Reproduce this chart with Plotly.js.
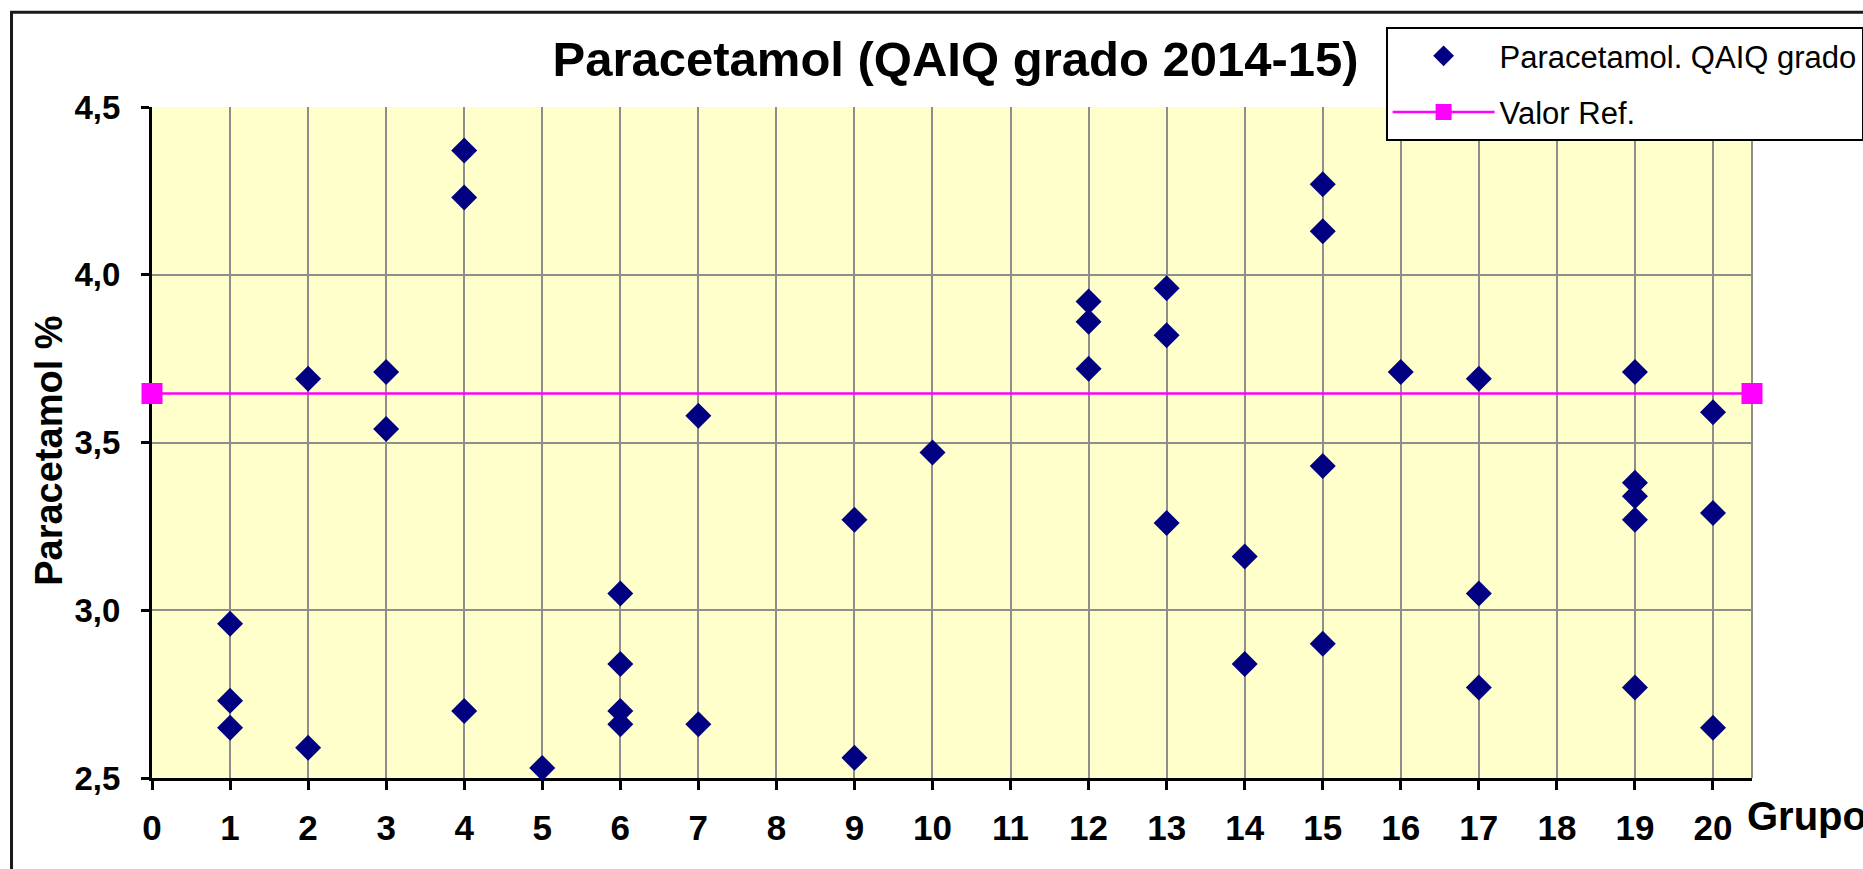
<!DOCTYPE html>
<html>
<head>
<meta charset="utf-8">
<script src="https://cdn.plot.ly/plotly-3.0.1.min.js"></script>
<style>
  html, body { margin: 0; padding: 0; background: #ffffff; }
  #chart { width: 1863px; height: 869px; }
</style>
</head>
<body>
<div id="chart"></div>
<script>
// ---- data ----
const grupo = [1, 1, 1, 2, 2, 3, 3, 4, 4, 4, 5, 6, 6, 6, 6, 7, 7, 9, 9, 10,
               12, 12, 12, 13, 13, 13, 14, 14, 15, 15, 15, 15, 16, 17, 17, 17,
               19, 19, 19, 19, 19, 20, 20, 20];
const paracetamol = [2.96, 2.73, 2.65, 3.69, 2.59, 3.71, 3.54, 4.37, 4.23, 2.70,
                     2.53, 3.05, 2.84, 2.70, 2.66, 3.58, 2.66, 3.27, 2.56, 3.47,
                     3.92, 3.86, 3.72, 3.96, 3.82, 3.26, 3.16, 2.84, 4.27, 4.13,
                     3.43, 2.90, 3.71, 3.69, 3.05, 2.77, 3.71, 3.38, 3.34, 3.27,
                     2.77, 3.59, 3.29, 2.65];
const refX = [0, 20.5];
const refY = [3.646, 3.646];

const seriesNames = ['Paracetamol. QAIQ grado', 'Valor Ref.'];
const xTickVals = [0, 1, 2, 3, 4, 5, 6, 7, 8, 9, 10, 11, 12, 13, 14, 15, 16, 17, 18, 19, 20];
const xTickText = ['0', '1', '2', '3', '4', '5', '6', '7', '8', '9', '10', '11', '12', '13', '14', '15', '16', '17', '18', '19', '20'];
const yTickVals = [2.5, 3.0, 3.5, 4.0, 4.5];
const yTickText = ['2,5', '3,0', '3,5', '4,0', '4,5'];

const titleText = 'Paracetamol (QAIQ grado 2014-15)';
const yTitleText = 'Paracetamol %';
const xTitleText = 'Grupo';

const FONT = 'Liberation Sans, Arial, Helvetica, sans-serif';

const traces = [
  {
    type: 'scatter',
    mode: 'markers',
    name: seriesNames[0],
    x: grupo,
    y: paracetamol,
    legendgroup: 'a',
    cliponaxis: false,
    marker: { symbol: 'diamond', size: 20, color: '#000080', line: { width: 0 } }
  },
  {
    type: 'scatter',
    mode: 'lines+markers',
    name: seriesNames[1],
    x: refX,
    y: refY,
    legendgroup: 'b',
    cliponaxis: false,
    line: { color: '#FF00FF', width: 2.5 },
    marker: { symbol: 'square', size: 21, color: '#FF00FF', line: { width: 0 } }
  }
];

const layout = {
  width: 1863,
  height: 869,
  margin: { l: 152, r: 111, t: 107, b: 91, pad: 0, autoexpand: false },
  paper_bgcolor: '#ffffff',
  plot_bgcolor: '#FFFFCC',
  separators: ',.',
  showlegend: true,
  font: { family: FONT, color: '#000000' },
  title: {
    text: titleText,
    font: { family: FONT, size: 49, weight: 'bold', color: '#000000' },
    xref: 'container', x: 0.5129, xanchor: 'center',
    yref: 'container', y: 0.932, yanchor: 'middle'
  },
  xaxis: {
    range: [0, 20.5],
    tickmode: 'array',
    tickvals: xTickVals,
    ticktext: xTickText,
    showgrid: true,
    gridcolor: '#8e8e8e',
    gridwidth: 2,
    zeroline: false,
    showline: true,
    linecolor: '#000000',
    linewidth: 3,
    ticks: 'outside',
    ticklen: 9,
    tickwidth: 3,
    tickcolor: '#000000',
    tickfont: { family: FONT, size: 35, weight: 'bold', color: '#000000' },
    ticklabelstandoff: 8,
    layer: 'below traces',
    automargin: false,
    fixedrange: true
  },
  yaxis: {
    range: [2.5, 4.5],
    tickmode: 'array',
    tickvals: yTickVals,
    ticktext: yTickText,
    showgrid: true,
    gridcolor: '#8e8e8e',
    gridwidth: 2,
    zeroline: false,
    showline: true,
    linecolor: '#000000',
    linewidth: 3,
    ticks: 'outside',
    ticklen: 8,
    tickwidth: 3,
    tickcolor: '#000000',
    tickfont: { family: FONT, size: 33, weight: 'bold', color: '#000000' },
    ticklabelstandoff: 14,
    layer: 'below traces',
    automargin: false,
    fixedrange: true
  },
  legend: {
    x: 0.771, xanchor: 'left',
    y: 1.119, yanchor: 'top',
    bgcolor: '#ffffff',
    bordercolor: '#000000',
    borderwidth: 2,
    font: { family: FONT, size: 31, color: '#000000' },
    traceorder: 'grouped',
    tracegroupgap: 13,
    itemwidth: 102
  },
  annotations: [
    {
      text: yTitleText,
      xref: 'paper', yref: 'paper',
      x: -0.064, y: 0.487,
      xanchor: 'center', yanchor: 'middle',
      textangle: -90,
      showarrow: false,
      font: { family: FONT, size: 38, weight: 'bold', color: '#000000' }
    },
    {
      text: xTitleText,
      xref: 'paper', yref: 'paper',
      x: 0.9959, y: -0.0563,
      xanchor: 'left', yanchor: 'middle',
      showarrow: false,
      font: { family: FONT, size: 40, weight: 'bold', color: '#000000' }
    }
  ],
  shapes: [
    {
      type: 'line', xref: 'paper', yref: 'paper',
      x0: 1, x1: 1, y0: 0, y1: 1,
      line: { color: '#8e8e8e', width: 2 },
      layer: 'below'
    },
    {
      type: 'rect', xref: 'paper', yref: 'paper',
      x0: -0.0878, x1: 1.08, y0: -0.167, y1: 1.1411,
      line: { color: '#1a1a1a', width: 3 },
      fillcolor: 'rgba(0,0,0,0)',
      layer: 'above'
    }
  ]
};

Plotly.newPlot('chart', traces, layout, { displayModeBar: false, responsive: false, staticPlot: true });
</script>
</body>
</html>
